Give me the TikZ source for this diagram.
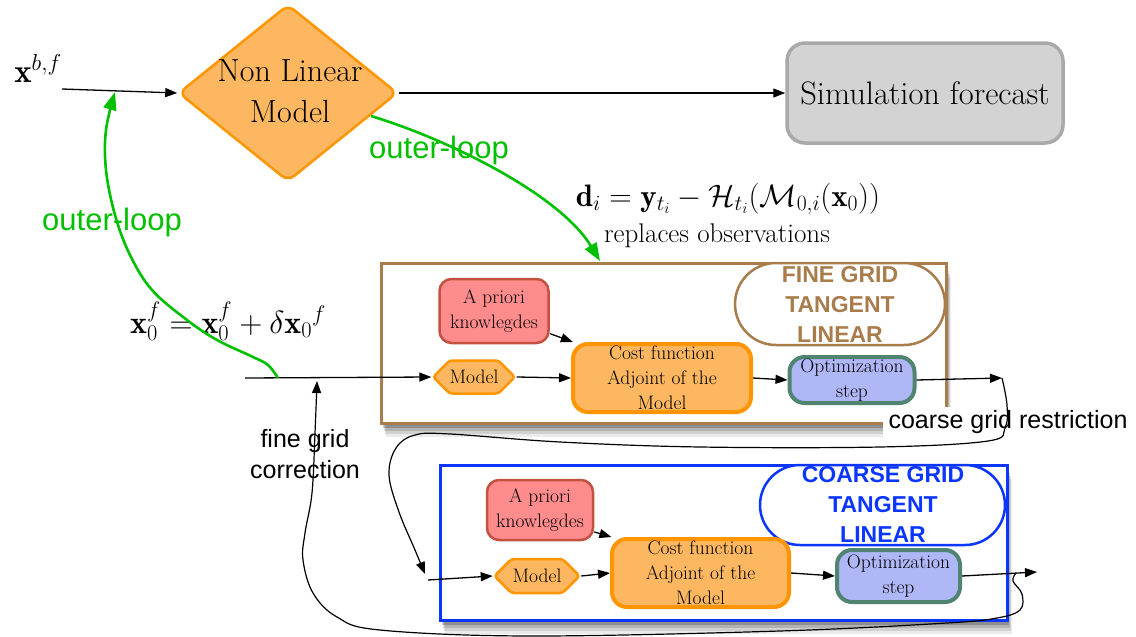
\RequirePackage{fix-cm}
\documentclass[tikz,border=0pt]{standalone}
\usepackage{amsmath}
\usepackage{fontspec}
\newfontfamily\sansf{Liberation Sans}
\usetikzlibrary{shapes.geometric,shapes.misc,shapes.symbols,arrows.meta,shadows}
\definecolor{dorange}{HTML}{FF9500}
\definecolor{lorange}{HTML}{FDB760}
\definecolor{simfill}{HTML}{D3D3D3}
\definecolor{simdraw}{HTML}{A9A9A9}
\definecolor{redfill}{HTML}{FF8C8C}
\definecolor{reddraw}{HTML}{C4513F}
\definecolor{optfill}{HTML}{B0B7F7}
\definecolor{optdraw}{HTML}{4E8470}
\definecolor{finebrown}{HTML}{A97C4B}
\definecolor{cblue}{HTML}{0A36FF}
\definecolor{lgreen}{HTML}{00C000}
\begin{document}
\begin{tikzpicture}[x=1pt,y=-1pt,
  conn/.style={line width=1.3pt,-{Triangle[length=12pt,width=9pt]}},
  curv/.style={line width=1.2pt,-{Triangle[length=12pt,width=9pt]}},
  gconn/.style={line width=2.6pt,draw=lgreen,-{Triangle[length=18pt,width=13pt]}},
  boxtext/.style={font=\fontsize{19.5}{25}\selectfont,align=center,inner sep=0pt},
  redbox/.style={boxtext,rectangle,rounded corners=12pt,fill=redfill,draw=reddraw,line width=2.5pt},
  costbox/.style={boxtext,rectangle,rounded corners=15pt,fill=lorange,draw=dorange,line width=4pt},
  optbox/.style={boxtext,rectangle,rounded corners=15pt,fill=optfill,draw=optdraw,line width=4pt},
  modelhex/.style={boxtext,signal,signal to=west and east,rounded corners=3pt,fill=lorange,draw=dorange,line width=2.5pt},
  gridframe/.style={rectangle,fill=white,line width=3pt,inner sep=0pt,
     drop shadow={shadow xshift=5pt,shadow yshift=-14pt,opacity=0.08,fill=black},
     drop shadow={shadow xshift=4pt,shadow yshift=-11pt,opacity=0.11,fill=black},
     drop shadow={shadow xshift=3pt,shadow yshift=-8pt,opacity=0.15,fill=black},
     drop shadow={shadow xshift=2pt,shadow yshift=-5pt,opacity=0.2,fill=black}},
  stadium/.style={rounded rectangle,fill=white,line width=2.5pt,inner sep=0pt},
  titletext/.style={font=\sansf\bfseries\fontsize{23}{30}\selectfont,align=center},
  sanslabel/.style={font=\sansf\fontsize{25}{31}\selectfont,align=center},
  greenlabel/.style={font=\sansf\fontsize{31}{36}\selectfont,text=lgreen}]
\useasboundingbox (0,0) rectangle (1136,637);

% top row
\node[diamond,fill=lorange,draw=dorange,line width=2.5pt,rounded corners=8pt,
      minimum width=219pt,minimum height=177pt,inner sep=0pt] (nlm) at (288,93) {};
\node[font=\fontsize{32}{41}\selectfont,align=center] (nlmtext) at (290,91) {Non Linear\\Model};
\node[rectangle,rounded corners=18pt,fill=simfill,draw=simdraw,line width=3.5pt,
      minimum width=276pt,minimum height=100pt,font=\fontsize{32.5}{36}\selectfont] (sim) at (925,93) {Simulation forecast};
\node[anchor=base,font=\fontsize{33}{36}\selectfont] (xbf) at (38,82) {$\mathbf{x}^{b,f}$};
\coordinate (xin) at (62,89);
\draw[conn] (xin) -- (nlm.west);
\draw[conn] (nlm.east) -- (sim.west);

% formulas
\node[anchor=base,font=\fontsize{31}{34}\selectfont] (dform) at (728,206)
  {$\mathbf{d}_i=\mathbf{y}_{t_i}-\mathcal{H}_{t_i}(\mathcal{M}_{0,i}(\mathbf{x}_0))$};
\node[anchor=base,font=\fontsize{27}{30}\selectfont] (repl) at (717,242) {replaces observations};
\node[anchor=base,font=\fontsize{32}{34}\selectfont] (xform) at (228,333)
  {$\mathbf{x}_0^f=\mathbf{x}_0^f+\delta\mathbf{x}_0{}^f$};

% fine grid frame
\node[gridframe,draw=finebrown,minimum width=565pt,minimum height=160pt] (fine) at (663.5,343) {};
\node[stadium,draw=finebrown,minimum width=210pt,minimum height=82pt] (finetitle) at (840,304) {};
\node[titletext,text=finebrown] (finetitletext) at (840,304) {FINE GRID\\TANGENT\\LINEAR};
\node[redbox,minimum width=109pt,minimum height=64pt] (apf) at (494,311) {A priori\\knowlegdes};
\node[modelhex,minimum width=79pt,minimum height=33pt] (mf) at (474,377) {Model};
\node[costbox,minimum width=178pt,minimum height=68pt] (cf) at (662,378) {Cost function\\Adjoint of the\\Model};
\node[optbox,minimum width=125pt,minimum height=46pt] (of) at (852,380) {Optimization\\step};

% coarse grid frame
\node[gridframe,draw=cblue,minimum width=567pt,minimum height=155pt] (coarse) at (723.5,542.5) {};
\node[stadium,draw=cblue,minimum width=245pt,minimum height=80pt] (coarsetitle) at (882.5,505) {};
\node[titletext,text=cblue] (coarsetitletext) at (883,504) {COARSE GRID\\TANGENT\\LINEAR};
\node[redbox,minimum width=106pt,minimum height=60pt] (apc) at (540,510) {A priori\\knowlegdes};
\node[modelhex,minimum width=85pt,minimum height=34pt] (mc) at (537,576) {Model};
\node[costbox,minimum width=177pt,minimum height=68pt] (cc) at (700.5,573) {Cost function\\Adjoint of the\\Model};
\node[optbox,minimum width=123pt,minimum height=52pt] (oc) at (898.5,576) {Optimization\\step};

% labels
\node[sanslabel,fill=white,inner xsep=6pt,inner ysep=3pt] (restr) at (1008,422) {coarse grid restriction};
\node[sanslabel] (corr) at (305,454) {fine grid\\correction};
\node[greenlabel] (ol2) at (112,222) {outer-loop};
\node[greenlabel,fill=white,inner sep=1pt] (ol1) at (439,150) {outer-loop};

% coordinates
\coordinate (fin) at (245,378);
\coordinate (fout) at (1002,378);
\coordinate (cin) at (428,580);
\coordinate (cout) at (1037,572);
\coordinate (gs1) at (371,116);
\coordinate (ge1) at (600,261);
\coordinate (gs2) at (278,378);
\coordinate (ge2) at (115,92);
\coordinate (rend) at (425,574);
\coordinate (cstart) at (1016,573);
\coordinate (cend) at (317,381);

% fine grid connectors
\draw[conn] (fin) -- (mf.west);
\draw[conn] (apf.-22) -- (cf.158);
\draw[conn] (mf.east) -- (cf.west);
\draw[conn] (cf.east) -- (of.west);
\draw[conn] (of.east) -- (fout);

% coarse grid connectors
\draw[conn] (cin) -- (mc.west);
\draw[conn] (apc.-22) -- (cc.158);
\draw[conn] (mc.east) -- (cc.west);
\draw[conn] (cc.east) -- (oc.west);
\draw[conn] (oc.east) -- (cout);

% restriction and correction curves
\draw[curv] plot[smooth,tension=0.6] coordinates {(fout) (1007,405) (1005,428) (988,441) (880,447) (700,447) (560,442) (450,434) (415,435) (396,448) (389,475) (399,512) (415,550) (rend)};
\draw[curv] plot[smooth,tension=0.6] coordinates {(cstart) (1013,581) (1022,594) (1020,610) (997,618) (947,623) (780,631) (530,636) (380,630) (337,617) (313,593) (303,560) (305,533) (312,493) (315,433) (cend)};

% outer loops
\draw[gconn] (gs1) .. controls (450,140) and (560,195) .. (ge1);
\draw[gconn] plot[smooth,tension=0.6] coordinates {(gs2) (268,365) (253,357) (217,340) (187,320) (152,290) (130,255) (115,215) (106,170) (106,130) (ge2)};
\end{tikzpicture}
\end{document}
